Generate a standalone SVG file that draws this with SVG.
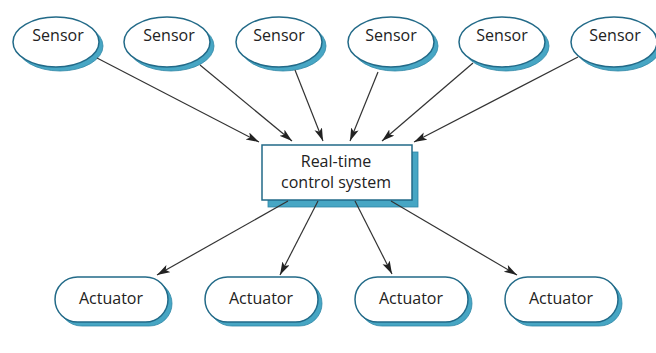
<svg xmlns="http://www.w3.org/2000/svg" width="656" height="353" viewBox="0 0 656 353">
  <style>
    .shadow { fill: #47a6c4; stroke: #2f86a6; stroke-width: 0.8; }
    .shape { fill: #ffffff; stroke: #226a88; stroke-width: 1.5; }
    .label { font-family: "Open Sans", "Liberation Sans", sans-serif; font-size: 16px; fill: #222222; text-anchor: middle; }
    .link { stroke: #333333; stroke-width: 1.2; fill: none; marker-end: url(#arrow); }
  </style>
  <defs>
    <marker id="arrow" markerUnits="userSpaceOnUse" markerWidth="14" markerHeight="10" refX="13" refY="4" orient="auto">
      <path d="M0,0 L13,4 L0,8 L3,4 Z" fill="#222222"/>
    </marker>
  </defs>
  <rect width="656" height="353" fill="#ffffff"/>

  <!-- sensor inputs -->
  <g id="sensor1">
    <ellipse class="shadow" cx="60" cy="46" rx="43" ry="25"/>
    <ellipse class="shape" cx="56" cy="42" rx="43" ry="25"/>
    <text class="label" x="58" y="41">Sensor</text>
  </g>
  <g id="sensor2">
    <ellipse class="shadow" cx="171" cy="46" rx="43" ry="25"/>
    <ellipse class="shape" cx="167" cy="42" rx="43" ry="25"/>
    <text class="label" x="169" y="41">Sensor</text>
  </g>
  <g id="sensor3">
    <ellipse class="shadow" cx="283" cy="46" rx="43" ry="25"/>
    <ellipse class="shape" cx="279" cy="42" rx="43" ry="25"/>
    <text class="label" x="279" y="41">Sensor</text>
  </g>
  <g id="sensor4">
    <ellipse class="shadow" cx="395" cy="46" rx="43" ry="25"/>
    <ellipse class="shape" cx="391" cy="42" rx="43" ry="25"/>
    <text class="label" x="391" y="41">Sensor</text>
  </g>
  <g id="sensor5">
    <ellipse class="shadow" cx="506" cy="46" rx="43" ry="25"/>
    <ellipse class="shape" cx="502" cy="42" rx="43" ry="25"/>
    <text class="label" x="502" y="41">Sensor</text>
  </g>
  <g id="sensor6">
    <ellipse class="shadow" cx="618" cy="46" rx="43" ry="25"/>
    <ellipse class="shape" cx="614" cy="42" rx="43" ry="25"/>
    <text class="label" x="615" y="41">Sensor</text>
  </g>

  <!-- central controller -->
  <g id="control">
    <rect class="shadow" x="268" y="152" width="150" height="55"/>
    <rect class="shape" x="262" y="145" width="150" height="55" stroke-width="1.2"/>
    <text class="label" x="336" y="167">Real-time</text>
    <text class="label" x="336" y="188">control system</text>
  </g>

  <!-- actuator outputs -->
  <g id="actuator1">
    <rect class="shadow" x="59" y="281" width="113" height="45" rx="22.5"/>
    <rect class="shape" x="55" y="277" width="113" height="45" rx="22.5"/>
    <text class="label" x="111" y="304">Actuator</text>
  </g>
  <g id="actuator2">
    <rect class="shadow" x="209" y="281" width="113" height="45" rx="22.5"/>
    <rect class="shape" x="205" y="277" width="113" height="45" rx="22.5"/>
    <text class="label" x="261" y="304">Actuator</text>
  </g>
  <g id="actuator3">
    <rect class="shadow" x="359" y="281" width="113" height="45" rx="22.5"/>
    <rect class="shape" x="355" y="277" width="113" height="45" rx="22.5"/>
    <text class="label" x="411" y="304">Actuator</text>
  </g>
  <g id="actuator4">
    <rect class="shadow" x="509" y="281" width="113" height="45" rx="22.5"/>
    <rect class="shape" x="505" y="277" width="113" height="45" rx="22.5"/>
    <text class="label" x="561" y="304">Actuator</text>
  </g>

  <!-- data flow -->
  <g id="connectors">
    <line class="link" x1="97" y1="58" x2="259" y2="142"/>
    <line class="link" x1="200" y1="65" x2="292" y2="141"/>
    <line class="link" x1="295" y1="70" x2="323" y2="141"/>
    <line class="link" x1="378" y1="72" x2="350" y2="141"/>
    <line class="link" x1="473" y1="63" x2="382" y2="141"/>
    <line class="link" x1="578" y1="57" x2="414" y2="142"/>
    <line class="link" x1="288" y1="201" x2="157" y2="275"/>
    <line class="link" x1="318" y1="201" x2="280" y2="275"/>
    <line class="link" x1="355" y1="201" x2="392" y2="274"/>
    <line class="link" x1="391" y1="201" x2="517" y2="275"/>
  </g>
</svg>
